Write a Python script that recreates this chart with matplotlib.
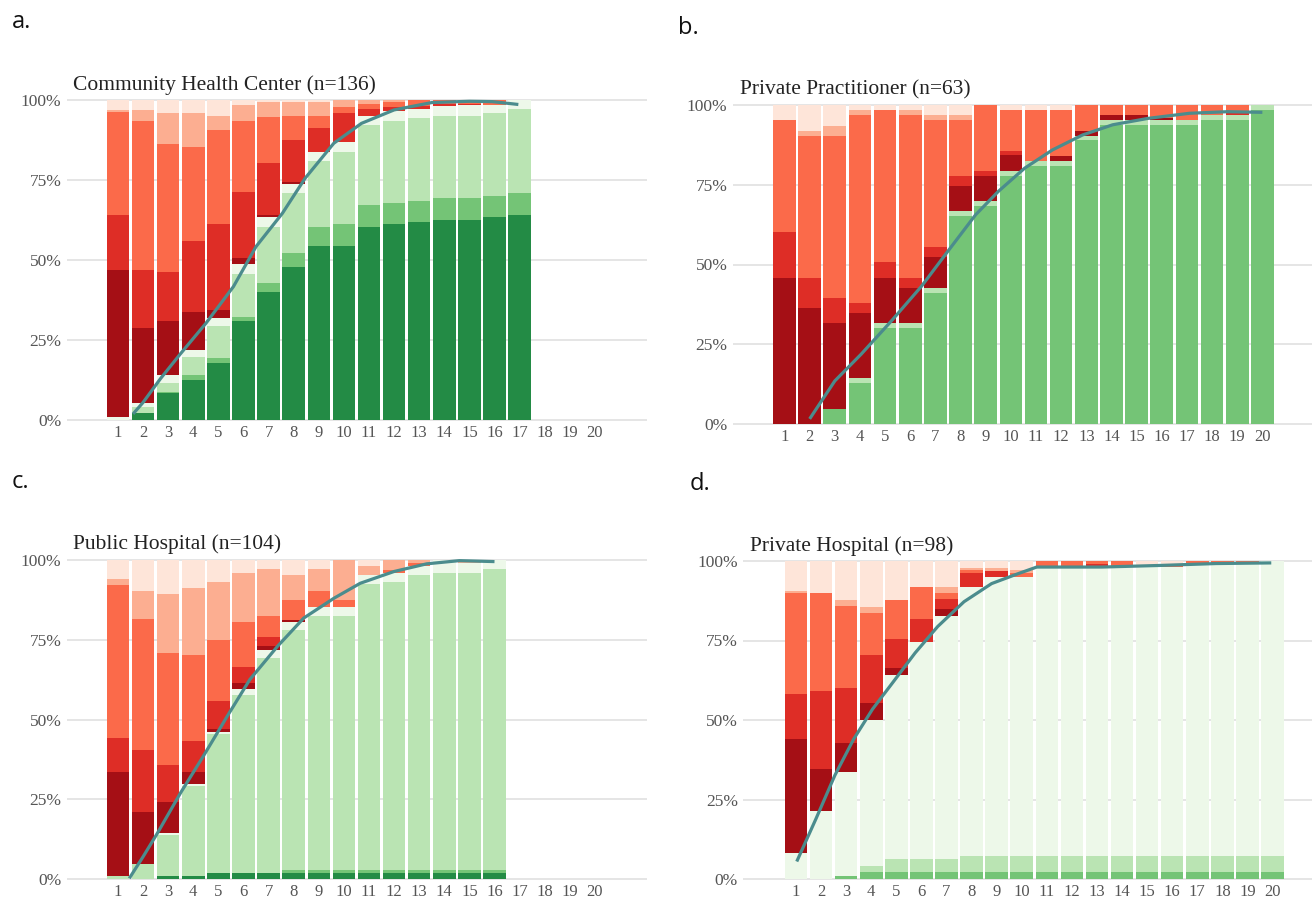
import numpy as np
import matplotlib
matplotlib.use("Agg")
import matplotlib.pyplot as plt

W, H = 1312, 901

# Stack order, bottom to top
categories = ["green4", "green3", "green2", "green1", "red4", "red3", "red2", "red1", "red0"]
colors = ["#238b45", "#74c476", "#bae4b3", "#edf8e9",
          "#a50f15", "#de2d26", "#fb6a4a", "#fcae91", "#fee5d9"]

x_labels = [str(i) for i in range(1, 21)]

# ---- a. Community Health Center: share (%) per category for each bar ----
title_a = "Community Health Center (n=136)"
a_green4 = [0, 2.3, 8.3, 12.5, 17.7, 30.9, 39.9, 47.9, 54.4, 54.4, 60.4, 61.3, 61.8, 62.5, 62.5, 63.3, 64.1]
a_green3 = [0, 0, 0.6, 1.5, 1.6, 1.4, 2.8, 4.4, 6.0, 6.7, 6.8, 6.4, 6.7, 6.8, 6.8, 6.7, 6.7]
a_green2 = [0, 1.9, 2.8, 5.8, 10.1, 13.3, 17.7, 18.5, 20.5, 22.8, 25.0, 25.8, 25.8, 25.7, 25.7, 25.8, 26.3]
a_green1 = [0.8, 1.0, 2.3, 2.2, 2.4, 3.2, 2.9, 3.0, 3.0, 3.1, 2.8, 3.2, 2.8, 3.1, 3.3, 2.6, 2.9]
a_red4 = [46.2, 23.7, 16.9, 11.9, 2.6, 1.7, 0.7, 0.7, 0, 0, 0, 0, 0, 0, 0, 0, 0]
a_red3 = [17.0, 18.1, 15.5, 22.1, 26.7, 20.9, 16.2, 13.0, 7.5, 8.8, 2.2, 1.2, 1.0, 0.5, 0.6, 0, 0]
a_red2 = [32.3, 46.5, 39.7, 29.4, 29.5, 22.1, 14.6, 7.5, 3.6, 2.1, 1.4, 1.6, 1.9, 1.4, 1.1, 1.6, 0]
a_red1 = [0.7, 3.5, 9.7, 10.4, 4.4, 4.9, 4.7, 4.5, 4.5, 2.1, 1.4, 0.5, 0, 0, 0, 0, 0]
a_red0 = [3.0, 3.0, 4.2, 4.2, 5.0, 1.6, 0.5, 0.5, 0.5, 0, 0, 0, 0, 0, 0, 0, 0]
a_line_x = [1.6, 2.0, 2.7, 3.5, 4.5, 5.6, 6.5, 7.55, 8.45, 9.6, 10.7, 12.0, 13.5, 15.0, 15.9, 16.95]
a_line_y = [1.9, 5.5, 13.0, 20.8, 30.2, 41.7, 54.2, 64.6, 75.5, 86.5, 92.7, 96.9, 99.2, 99.6, 99.5, 98.6]

# ---- b. Private Practitioner ----
title_b = "Private Practitioner (n=63)"
b_green4 = [0] * 20
b_green3 = [0, 0, 4.7, 12.7, 30.2, 30.2, 41.1, 65.1, 68.2, 77.8, 80.9, 80.9, 88.9, 93.8, 93.8, 93.8, 93.8, 95.3, 95.3, 98.4]
b_green2 = [0, 0, 0, 1.6, 1.4, 1.4, 1.6, 1.6, 1.6, 1.6, 1.6, 1.6, 1.5, 1.5, 1.5, 1.5, 1.5, 1.6, 1.6, 1.6]
b_green1 = [0] * 20
b_red4 = [45.8, 36.5, 26.9, 20.6, 14.2, 11.1, 9.6, 7.8, 8.0, 4.8, 0, 1.6, 1.6, 1.6, 1.6, 0.7, 0, 0, 0, 0]
b_red3 = [14.4, 9.3, 7.8, 2.9, 4.9, 3.1, 3.2, 3.3, 1.6, 1.5, 0, 0, 0, 0, 0, 0, 0, 0, 0.5, 0]
b_red2 = [35.1, 44.6, 51.0, 59.1, 47.7, 51.1, 39.8, 17.5, 20.6, 12.7, 15.9, 14.3, 8.0, 3.1, 3.1, 4.0, 4.7, 3.1, 2.6, 0]
b_red1 = [0, 1.6, 3.1, 1.5, 0, 1.5, 1.6, 1.6, 0, 0, 0, 0, 0, 0, 0, 0, 0, 0, 0, 0]
b_red0 = [4.7, 8.0, 6.5, 1.6, 1.6, 1.6, 3.1, 3.1, 0, 1.6, 1.6, 1.6, 0, 0, 0, 0, 0, 0, 0, 0]
b_line_x = [2.0, 3.0, 4.05, 5.25, 6.45, 7.5, 8.6, 9.5, 10.55, 11.65, 12.85, 14.05, 15.45, 17.1, 18.6, 20.0]
b_line_y = [1.6, 13.5, 21.9, 32.3, 43.2, 54.2, 65.6, 72.9, 80.2, 85.9, 90.6, 93.8, 95.8, 97.4, 97.9, 97.7]

# ---- c. Public Hospital ----
title_c = "Public Hospital (n=104)"
c_green4 = [0, 0, 0.8, 0.8, 1.9, 1.9, 1.9, 1.9, 1.9, 1.9, 1.9, 1.9, 1.9, 1.9, 1.9, 1.9]
c_green3 = [0, 0, 0, 0, 0, 0, 0, 0.9, 0.9, 0.9, 0.9, 0.9, 0.9, 0.9, 0.9, 0.9]
c_green2 = [1.0, 4.7, 13.0, 28.4, 43.4, 55.9, 67.4, 75.1, 79.8, 79.8, 89.6, 90.4, 92.5, 93.2, 93.2, 94.3]
c_green1 = [0, 0, 0.6, 0.5, 0.8, 1.8, 2.6, 2.8, 2.8, 2.8, 2.9, 2.8, 2.8, 4.0, 3.0, 2.9]
c_red4 = [32.6, 16.4, 9.6, 3.9, 1.0, 1.9, 1.0, 0.5, 0, 0, 0, 0, 0, 0, 0, 0]
c_red3 = [10.7, 19.3, 11.6, 9.6, 8.6, 4.9, 2.9, 0, 0, 0, 0, 0, 0, 0, 0, 0]
c_red2 = [47.9, 41.2, 35.4, 26.9, 19.3, 14.3, 6.8, 6.3, 4.9, 2.1, 0, 0.9, 0.9, 0, 0.2, 0]
c_red1 = [1.9, 8.7, 18.4, 21.0, 18.2, 15.3, 14.5, 7.8, 6.8, 12.5, 2.8, 3.1, 1.0, 0, 0.8, 0]
c_red0 = [5.9, 9.7, 10.6, 8.9, 6.8, 4.0, 2.9, 4.7, 2.9, 0, 1.9, 0, 0, 0, 0, 0]
c_line_x = [1.45, 2.0, 2.55, 3.5, 4.4, 5.35, 6.25, 7.35, 8.4, 9.6, 10.65, 12.0, 13.3, 14.6, 16.0]
c_line_y = [0.2, 7.0, 14.1, 27.1, 38.5, 51.0, 62.5, 72.9, 81.8, 88.0, 92.7, 96.4, 98.8, 99.8, 99.5]

# ---- d. Private Hospital ----
title_d = "Private Hospital (n=98)"
d_green4 = [0] * 20
d_green3 = [0, 0, 1.0] + [2.1] * 17
d_green2 = [0, 0, 0, 2.1, 4.1, 4.1, 4.1] + [5.0] * 13
d_green1 = [8.1, 21.4, 32.8, 45.8, 58.1, 68.3, 76.5, 84.8, 87.9, 87.9, 91.2, 91.2, 91.0, 91.4, 91.0, 91.0, 92.3, 92.3, 92.3, 92.9]
d_red4 = [35.9, 13.3, 9.0, 5.3, 2.1, 0, 2.1, 0, 0, 0, 0, 0, 0, 0, 0, 0, 0, 0, 0, 0]
d_red3 = [14.1, 24.4, 17.3, 15.0, 9.1, 7.2, 3.1, 4.4, 1.9, 0, 0, 0, 0.9, 0, 0, 0, 0, 0, 0.2, 0]
d_red2 = [31.9, 30.9, 25.7, 13.3, 12.2, 10.0, 2.1, 0.8, 0, 1.3, 1.7, 1.7, 1.0, 1.5, 0.2, 0.5, 0.6, 0.6, 0.4, 0]
d_red1 = [0.6, 0, 1.9, 2.0, 0, 0, 1.7, 0.8, 1.0, 0.8, 0, 0, 0, 0, 0, 0, 0, 0, 0, 0]
d_red0 = [9.4, 10.0, 12.3, 14.4, 12.3, 8.3, 8.3, 2.1, 2.1, 2.9, 0, 0, 0, 0, 1.7, 1.4, 0, 0, 0, 0]
d_line_x = [1.03, 1.8, 2.55, 3.3, 4.05, 4.85, 5.75, 6.65, 7.7, 8.8, 9.85, 10.6, 11.7, 13.2, 15.5, 17.75, 19.95]
d_line_y = [5.5, 19.0, 32.6, 44.0, 53.4, 61.7, 71.1, 79.4, 87.2, 92.9, 96.0, 98.1, 98.1, 98.1, 98.6, 99.2, 99.4]

panels = [
    dict(tag="a.", title=title_a,
         series=[a_green4, a_green3, a_green2, a_green1, a_red4, a_red3, a_red2, a_red1, a_red0],
         lx=a_line_x, ly=a_line_y,
         px1=118, sp=25.1, py0=420, py100=100, xlim=(-1.03, 22.08),
         tag_xy=(12, 22), title_xy=(73, 90)),
    dict(tag="b.", title=title_b,
         series=[b_green4, b_green3, b_green2, b_green1, b_red4, b_red3, b_red2, b_red1, b_red0],
         lx=b_line_x, ly=b_line_y,
         px1=784.5, sp=25.15, py0=424, py100=105, xlim=(-1.05, 22.0),
         tag_xy=(678, 28), title_xy=(740, 94)),
    dict(tag="c.", title=title_c,
         series=[c_green4, c_green3, c_green2, c_green1, c_red4, c_red3, c_red2, c_red1, c_red0],
         lx=c_line_x, ly=c_line_y,
         px1=118, sp=25.1, py0=879, py100=560, xlim=(-1.03, 22.08),
         tag_xy=(12, 482), title_xy=(73, 549)),
    dict(tag="d.", title=title_d,
         series=[d_green4, d_green3, d_green2, d_green1, d_red4, d_red3, d_red2, d_red1, d_red0],
         lx=d_line_x, ly=d_line_y,
         px1=796, sp=25.08, py0=879, py100=561, xlim=(-1.1, 22.0),
         tag_xy=(690, 484), title_xy=(750, 551)),
]

SERIF = ["Liberation Serif", "DejaVu Serif"]
fig = plt.figure(figsize=(W / 100, H / 100), dpi=100)
fig.patch.set_facecolor("white")

YLIM = (-1.5, 101.5)
for p in panels:
    x0, x1 = p["xlim"]
    left_px = p["px1"] + (x0 - 1) * p["sp"]
    right_px = p["px1"] + (x1 - 1) * p["sp"]
    per = (p["py0"] - p["py100"]) / 100.0
    bottom_px = p["py0"] - YLIM[0] * per
    top_px = p["py0"] - YLIM[1] * per
    ax = fig.add_axes([left_px / W, 1 - bottom_px / H,
                       (right_px - left_px) / W, (bottom_px - top_px) / H])
    ax.set_xlim(x0, x1)
    ax.set_ylim(*YLIM)

    n = len(p["series"][0])
    xs = np.arange(1, n + 1)
    base = np.zeros(n)
    for vals, col in zip(p["series"], colors):
        v = np.asarray(vals, dtype=float)
        ax.bar(xs, v, bottom=base, width=0.9, color=col, linewidth=0, zorder=2)
        base += v

    ax.plot(p["lx"], p["ly"], color="#4b8c8d", lw=2.3, zorder=4,
            solid_capstyle="butt", solid_joinstyle="round")

    for s in ax.spines.values():
        s.set_visible(False)
    ax.set_yticks([0, 25, 50, 75, 100])
    ax.set_yticklabels(["0%", "25%", "50%", "75%", "100%"])
    ax.set_xticks(range(1, 21))
    ax.set_xticklabels(x_labels)
    ax.tick_params(length=0, labelsize=12.5, labelcolor="#555555")
    ax.tick_params(axis="x", labelsize=12)
    ax.tick_params(axis="y", pad=4)
    ax.tick_params(axis="x", pad=0.5)
    for lab in ax.get_xticklabels() + ax.get_yticklabels():
        lab.set_family(SERIF)
    ax.grid(axis="y", color="#e0e0e0", lw=1.2, zorder=0)
    ax.set_axisbelow(True)

    fig.text(p["title_xy"][0] / W, 1 - p["title_xy"][1] / H, p["title"],
             family=SERIF, fontsize=15.5, color="#222222", ha="left", va="baseline")
    fig.text(p["tag_xy"][0] / W, 1 - p["tag_xy"][1] / H, p["tag"],
             family=["Open Sans", "DejaVu Sans"], fontsize=17, color="#111111",
             ha="left", va="center")

fig.savefig("out.png", dpi=100)
